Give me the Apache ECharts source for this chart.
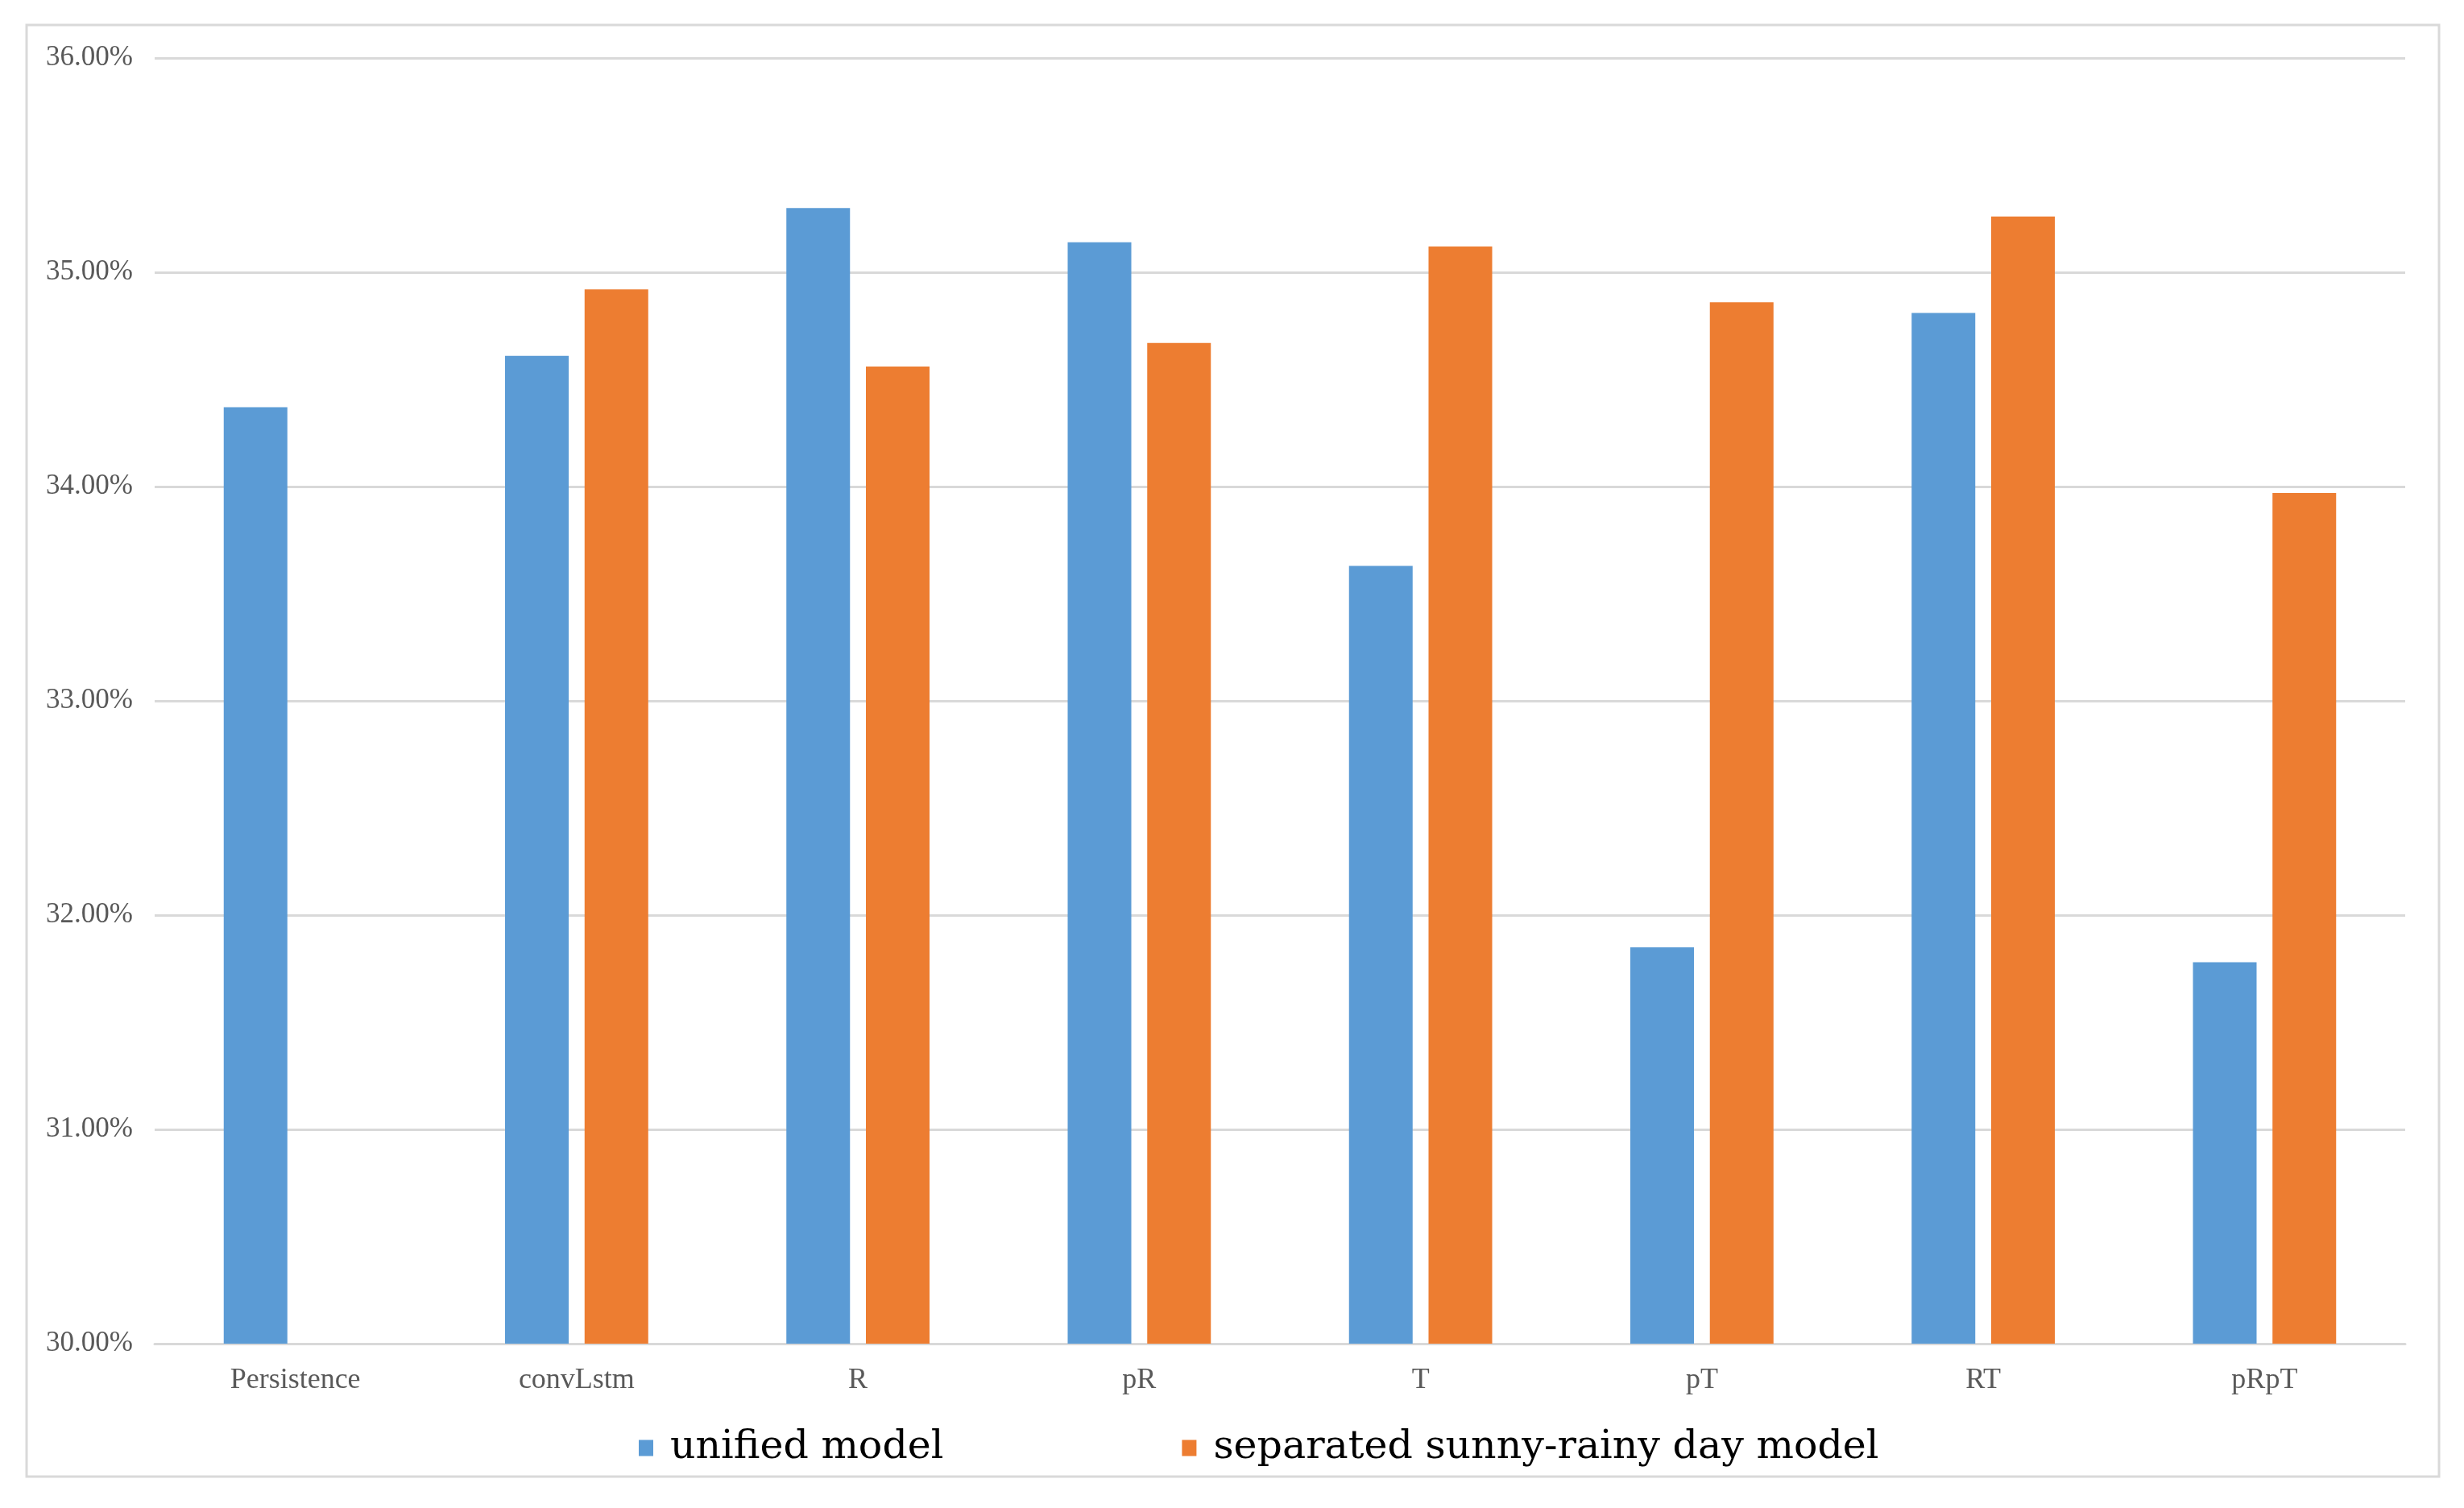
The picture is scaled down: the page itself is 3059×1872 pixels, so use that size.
<!DOCTYPE html>
<html>
<head>
<meta charset="utf-8">
<script src="https://cdn.jsdelivr.net/npm/echarts@6/dist/echarts.min.js"></script>
<style>
html,body{margin:0;padding:0;background:#fff;}
#chart{width:3059px;height:1872px;}
</style>
</head>
<body>
<div id="chart"></div>
<script>
const categories = ['Persistence','convLstm','R','pR','T','pT','RT','pRpT'];
const unifiedModel = [34.37, 34.61, 35.30, 35.14, 33.63, 31.85, 34.81, 31.78];
const separatedModel = ['-', 34.92, 34.56, 34.67, 35.12, 34.86, 35.26, 33.97];
const seriesNames = ['unified model', 'separated sunny-rainy day model'];
const yTicks = {min: 30, max: 36, interval: 1};

const chart = echarts.init(document.getElementById('chart'), null, {renderer: 'canvas'});
const option = {
  backgroundColor: '#ffffff',
  animation: false,
  graphic: [{
    type: 'rect',
    shape: {x: 33, y: 31, width: 2995, height: 1802},
    style: {fill: 'none', stroke: '#d9d9d9', lineWidth: 3},
    silent: true
  }],
  grid: {left: 192, right: 73, top: 72, bottom: 204, containLabel: false},
  legend: {
    data: seriesNames,
    left: 788,
    top: 1768,
    itemWidth: 18,
    itemHeight: 20,
    itemGap: 296,
    icon: 'rect',
    textStyle: {fontFamily: 'DejaVu Serif', fontSize: 49, color: '#000000', padding: [0, 0, 0, 16]}
  },
  xAxis: {
    type: 'category',
    data: categories,
    axisTick: {show: false},
    axisLine: {show: true, lineStyle: {color: '#d9d9d9', width: 3}},
    axisLabel: {fontFamily: 'Liberation Serif', fontSize: 36, color: '#595959', margin: 28}
  },
  yAxis: {
    type: 'value',
    min: yTicks.min,
    max: yTicks.max,
    interval: yTicks.interval,
    axisLine: {show: false},
    axisTick: {show: false},
    splitLine: {lineStyle: {color: '#d9d9d9', width: 3}},
    axisLabel: {
      fontFamily: 'Liberation Serif', fontSize: 35, color: '#595959', margin: 27,
      formatter: v => v.toFixed(2) + '%'
    }
  },
  series: [
    {name: seriesNames[0], type: 'bar', data: unifiedModel, barWidth: 79, barGap: '25%',
     itemStyle: {color: '#5b9bd5'}},
    {name: seriesNames[1], type: 'bar', data: separatedModel, barWidth: 79, barGap: '25%',
     itemStyle: {color: '#ed7d31'}}
  ]
};
chart.setOption(option);
</script>
</body>
</html>
